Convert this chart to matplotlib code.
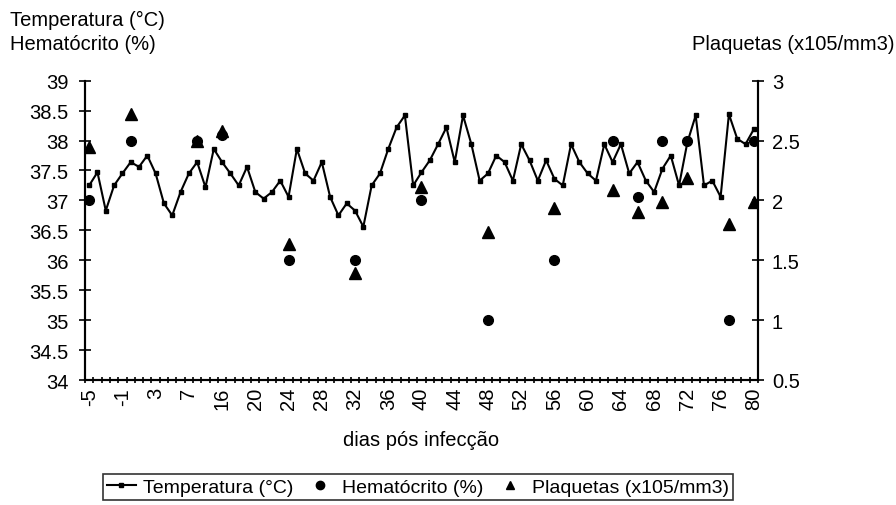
import matplotlib
matplotlib.use("Agg")
import matplotlib.pyplot as plt
from matplotlib.lines import Line2D

plt.rcParams['font.family'] = ['Liberation Sans', 'DejaVu Sans']

# category days (x axis)
days = list(range(-5, 8)) + [13, 14, 15] + list(range(16, 81))

# temperature (°C) at each category
temperatura = [37.25, 37.47, 36.83, 37.25, 37.45, 37.64, 37.56, 37.75, 37.45, 36.95,
               36.75, 37.14, 37.45, 37.64, 37.22, 37.86, 37.64, 37.45, 37.25, 37.56,
               37.14, 37.03, 37.14, 37.33, 37.06, 37.86, 37.45, 37.33, 37.64, 37.06,
               36.75, 36.95, 36.83, 36.56, 37.25, 37.45, 37.86, 38.22, 38.42, 37.25,
               37.47, 37.67, 37.94, 38.22, 37.64, 38.42, 37.94, 37.33, 37.45, 37.75,
               37.64, 37.33, 37.94, 37.67, 37.33, 37.67, 37.36, 37.25, 37.94, 37.64,
               37.45, 37.33, 37.94, 37.64, 37.94, 37.45, 37.64, 37.33, 37.14, 37.53,
               37.75, 37.25, 37.97, 38.42, 37.25, 37.33, 37.06, 38.44, 38.03, 37.94,
               38.19]

# hematocrit (%) and platelets (x10^5/mm3) measured on some categories (index)
medidas_idx = [0, 5, 13, 16, 24, 32, 40, 48, 56, 63, 66, 69, 72, 77, 80]
hematocrito = [37.0, 38.0, 38.0, 38.1, 36.0, 36.0, 37.0, 35.0, 36.0, 38.0, 37.05, 38.0, 38.0, 35.0, 38.0]
plaquetas = [2.45, 2.72, 2.5, 2.58, 1.64, 1.39, 2.11, 1.74, 1.94, 2.09, 1.9, 1.99, 2.19, 1.8, 1.99]

left_ticks = [34, 34.5, 35, 35.5, 36, 36.5, 37, 37.5, 38, 38.5, 39]
right_ticks = [0.5, 1, 1.5, 2, 2.5, 3]

fs = 14.5
fig = plt.figure(figsize=(8.96, 5.06), dpi=100)
ax = fig.add_axes([85/896, 1-381/506, (758-85)/896, (381-81.7)/506])
ax2 = ax.twinx()

x = list(range(len(days)))
ax.plot(x, temperatura, color='black', lw=1.5, marker='s', ms=3.5, zorder=3)
ax.plot(medidas_idx, hematocrito, ls='none', marker='o', ms=7, color='black', zorder=4)
ax2.plot(medidas_idx, plaquetas, ls='none', marker='^', ms=8, color='black', zorder=4)

ax.set_xlim(-0.5, len(days) - 0.5)
ax.set_ylim(34, 39)
ax2.set_ylim(0.5, 3)
ax.set_yticks(left_ticks)
ax.set_yticklabels(['%g' % v for v in left_ticks], fontsize=fs)
ax2.set_yticks(right_ticks)
ax2.set_yticklabels(['%g' % v for v in right_ticks], fontsize=fs)

ax.set_xticks(x[::4])
ax.set_xticklabels([str(days[i]) for i in x[::4]], rotation=90, fontsize=fs)
ax.set_xticks([i - 0.5 for i in range(len(days) + 1)], minor=True)
ax.tick_params(axis='x', which='major', length=0, pad=5)
ax.tick_params(axis='x', which='minor', direction='inout', length=5, width=1.2)
ax.tick_params(axis='y', direction='inout', length=8, width=1.2, pad=8)
ax2.tick_params(axis='y', direction='inout', length=8, width=1.2, pad=6)

for a in (ax, ax2):
    a.spines['top'].set_visible(False)
    for s in a.spines.values():
        s.set_linewidth(1.5)

ax.set_xlabel('dias pós infecção', fontsize=fs, labelpad=15)

fig.text(10/896, 1-20/506, 'Temperatura (°C)', fontsize=fs, va='center', ha='left')
fig.text(10/896, 1-45/506, 'Hematócrito (%)', fontsize=fs, va='center', ha='left')
fig.text(894/896, 1-45/506, 'Plaquetas (x105/mm3)', fontsize=fs, va='center', ha='right')

handles = [Line2D([], [], color='black', lw=1.5, marker='s', ms=3.5),
           Line2D([], [], ls='none', marker='o', ms=6, color='black'),
           Line2D([], [], ls='none', marker='^', ms=6, color='black')]
labels = ['Temperatura (°C)', 'Hematócrito (%)', 'Plaquetas (x105/mm3)']
leg = fig.legend(handles, labels, ncol=3, loc='center', bbox_to_anchor=(418/896, 1-488/506),
                 fontsize=14, frameon=True, fancybox=False, edgecolor='black',
                 handlelength=1.5, columnspacing=0.6, borderpad=0.2, handletextpad=0.4,
                 borderaxespad=0)
leg.get_frame().set_linewidth(1.2)

fig.savefig('out.png', dpi=100)
